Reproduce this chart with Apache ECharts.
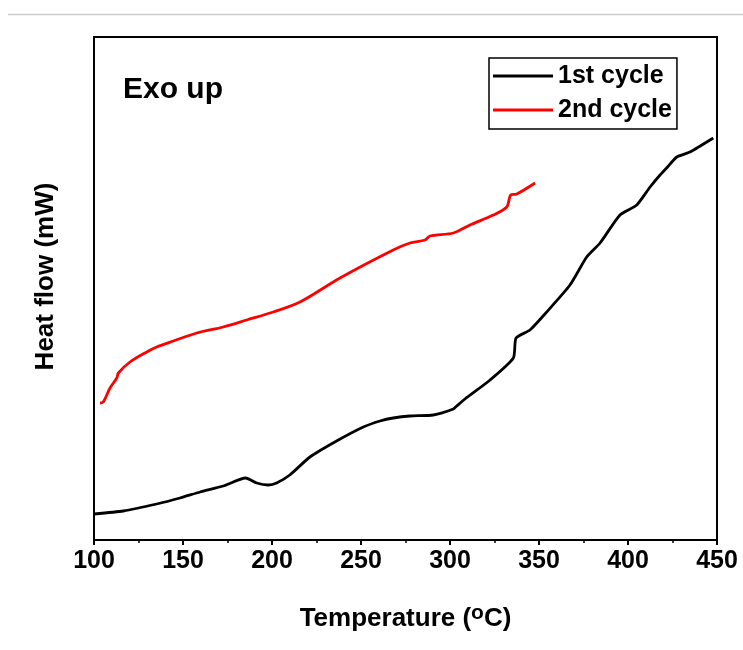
<!DOCTYPE html>
<html>
<head>
<meta charset="utf-8">
<script src="https://cdn.jsdelivr.net/npm/echarts@6/dist/echarts.min.js"></script>
<style>html,body{margin:0;padding:0;background:#fff;}#c{width:743px;height:650px;}</style>
</head>
<body>
<div id="c"></div>
<script>
var seriesNames = ['1st cycle', '2nd cycle'];
var temp1 = [100, 116.5, 135.2, 148.3, 159.6, 172.6, 185.2, 191.4, 197.9, 202.6, 210, 221.3, 236.3, 251.3, 260.7, 268.1, 277.5, 290.6, 301.9, 303.8, 308.4, 322.5, 335.6, 337.1, 344.9, 354.3, 367.4, 376.8, 384.3, 395.5, 404.9, 412.4, 418, 421.7, 427.4, 434.8, 447.9];
var heat1 = [0.26, 0.29, 0.36, 0.42, 0.48, 0.54, 0.62, 0.57, 0.55, 0.57, 0.65, 0.83, 0.99, 1.13, 1.19, 1.22, 1.24, 1.25, 1.31, 1.34, 1.41, 1.60, 1.82, 2.02, 2.10, 2.28, 2.55, 2.83, 2.97, 3.25, 3.35, 3.53, 3.65, 3.72, 3.83, 3.88, 4.02];
var temp2 = [103.4, 105.2, 109, 112.8, 113.7, 120.2, 129.6, 135.2, 144.6, 157.7, 172.6, 185.8, 200.7, 215.7, 238.2, 268.1, 277.5, 286, 288.8, 301.9, 311.2, 324.3, 331.9, 334.1, 337.5, 347.8];
var heat2 = [1.37, 1.38, 1.52, 1.62, 1.67, 1.78, 1.88, 1.93, 1.99, 2.07, 2.13, 2.20, 2.28, 2.38, 2.62, 2.90, 2.97, 3.00, 3.04, 3.07, 3.15, 3.25, 3.33, 3.45, 3.46, 3.57];

function pairs(xs, ys) { return xs.map(function (x, i) { return [x, ys[i]]; }); }

var font = '"Liberation Sans", Arial, sans-serif';
var chart = echarts.init(document.getElementById('c'), null, { renderer: 'canvas' });
chart.setOption({
  backgroundColor: '#fff',
  animation: false,
  grid: { left: 94, right: 26, top: 37, bottom: 110, show: true, borderColor: '#000', borderWidth: 2, backgroundColor: 'transparent' },
  legend: {
    orient: 'vertical', left: 489, top: 58,
    data: seriesNames,
    icon: 'rect', itemWidth: 60, itemHeight: 3, itemGap: 6,
    padding: [4, 5, 5, 4],
    borderColor: '#000', borderWidth: 1.5,
    textStyle: { fontFamily: font, fontWeight: 'bold', fontSize: 25, color: '#000', lineHeight: 28 }
  },
  xAxis: {
    type: 'value', min: 100, max: 450, interval: 50,
    axisLine: { show: true, lineStyle: { color: '#000', width: 2 } },
    axisTick: { show: true, inside: false, length: 5, lineStyle: { color: '#000', width: 2 } },
    minorTick: { show: true, splitNumber: 2, length: 3, lineStyle: { color: '#000', width: 1.5 } },
    splitLine: { show: false },
    axisLabel: { fontFamily: font, fontWeight: 'bold', fontSize: 25, color: '#000', margin: 9 },
    name: 'Temperature ({sup|o}C)', nameLocation: 'middle', nameGap: 63,
    nameTextStyle: {
      fontFamily: font, fontWeight: 'bold', fontSize: 26, color: '#000',
      rich: { sup: { fontFamily: font, fontWeight: 'bold', fontSize: 21, color: '#000', padding: [0, 0, 10, 0] } }
    }
  },
  yAxis: {
    type: 'value', min: 0, max: 5.03,
    axisLine: { show: true, lineStyle: { color: '#000', width: 2 } },
    axisTick: { show: false }, axisLabel: { show: false }, splitLine: { show: false },
    name: 'Heat flow (mW)', nameLocation: 'middle', nameGap: 35, nameRotate: 90,
    nameTextStyle: { fontFamily: font, fontWeight: 'bold', fontSize: 26, color: '#000', padding: [0, 0, 0, 24] }
  },
  graphic: [
    { type: 'line', shape: { x1: 8, y1: 14.5, x2: 743, y2: 14.5 }, style: { stroke: '#cccccc', lineWidth: 1.5 } },
    { type: 'text', left: 123, top: 75, style: { text: 'Exo up', fontFamily: font, fontWeight: 'bold', fontSize: 30, fill: '#000' } }
  ],
  series: [
    { name: seriesNames[0], type: 'line', data: pairs(temp1, heat1), showSymbol: false, smooth: 0.2, color: '#000', lineStyle: { color: '#000', width: 2.8 } },
    { name: seriesNames[1], type: 'line', data: pairs(temp2, heat2), showSymbol: false, smooth: 0.3, color: '#ff0000', lineStyle: { color: '#ff0000', width: 2.8 } }
  ]
});
</script>
</body>
</html>
